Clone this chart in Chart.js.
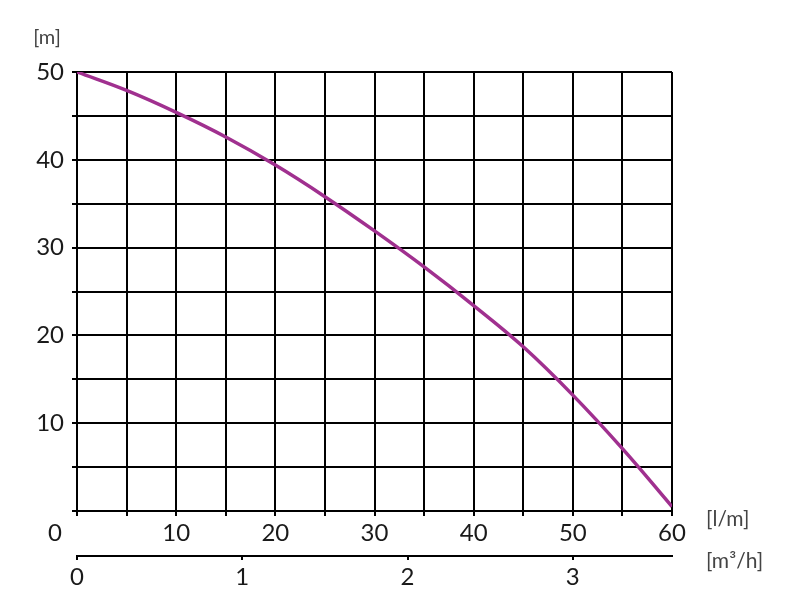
<!DOCTYPE html>
<html lang="en">
  <head>
    <meta charset="UTF-8" />
    <title>Pump curve</title>
    <script src="https://cdn.jsdelivr.net/npm/chart.js"></script>
    <style>
      html, body { margin: 0; padding: 0; background: #fff; overflow: hidden; }
    </style>
  </head>
  <body>
    <canvas id="chart" width="800" height="600"></canvas>
    <script>
      // flow in l/m and head in m
      const flowLpm = [0, 5, 10, 15, 20, 25, 30, 35, 40, 45, 50, 55, 60];
      const headM = [50, 47.9, 45.4, 42.6, 39.4, 35.8, 31.9, 27.8, 23.4, 18.7, 13.2, 7.1, 0.5];
      const m3hTicks = [0, 1, 2, 3];

      const font = "Lato, 'DejaVu Sans', sans-serif";
      const ink = "#1a1a1a";

      // axis units and the corner zero
      const unitLabels = {
        id: "unitLabels",
        afterDraw(chart) {
          const ctx = chart.ctx;
          const x = chart.scales.x;
          const x2 = chart.scales.x2;
          ctx.save();
          ctx.fillStyle = "#444";
          ctx.font = "20px " + font;
          ctx.textBaseline = "middle";
          ctx.textAlign = "center";
          ctx.fillText("[m]", 47, 38);
          ctx.textAlign = "left";
          ctx.font = "21px " + font;
          ctx.fillText("[l/m]", x.right + 34, x.top + 8);
          ctx.fillText("[m\u00b3/h]", x.right + 34, x2.top + 5);
          ctx.fillStyle = ink;
          ctx.font = "24px " + font;
          ctx.textAlign = "center";
          ctx.fillText("0", x.left - 22, x.top + 22);
          ctx.restore();
        },
      };

      new Chart(document.getElementById("chart"), {
        type: "line",
        data: {
          datasets: [
            {
              data: flowLpm.map((f, i) => ({ x: f, y: headM[i] })),
              borderColor: "#a0308f",
              borderWidth: 3.5,
              pointRadius: 0,
              tension: 0.4,
              xAxisID: "x",
              yAxisID: "y",
            },
          ],
        },
        options: {
          responsive: false,
          animation: false,
          devicePixelRatio: 1,
          layout: { padding: { top: 72, right: 128, left: 0, bottom: 0 } },
          plugins: { legend: { display: false }, tooltip: { enabled: false } },
          scales: {
            x: {
              type: "linear",
              position: "bottom",
              min: 0,
              max: 60,
              afterFit: (s) => { s.height = 45; },
              ticks: {
                stepSize: 5,
                padding: 3,
                color: ink,
                font: { family: font, size: 24 },
                maxRotation: 0,
                autoSkip: false,
                callback: (v) => (v % 10 === 0 && v !== 0 ? v : ""),
              },
              grid: { color: "#000", lineWidth: 2, tickLength: 5 },
              border: { color: "#000", width: 2 },
            },
            x2: {
              type: "linear",
              position: "bottom",
              min: 0,
              max: 3.6,
              afterFit: (s) => { s.height = 44; },
              afterBuildTicks: (s) => {
                s.ticks = m3hTicks.map((v) => ({ value: v }));
              },
              ticks: {
                padding: 3,
                color: ink,
                font: { family: font, size: 24 },
                maxRotation: 0,
                autoSkip: false,
              },
              grid: { drawOnChartArea: false, color: "#000", lineWidth: 2, tickLength: 4 },
              border: { color: "#000", width: 2 },
            },
            y: {
              min: 0,
              max: 50,
              afterFit: (s) => { s.width = 77; },
              ticks: {
                stepSize: 5,
                padding: 8,
                color: ink,
                font: { family: font, size: 24 },
                autoSkip: false,
                callback: (v) => (v % 10 === 0 && v !== 0 ? v : ""),
              },
              grid: { color: "#000", lineWidth: 2, tickLength: 5 },
              border: { color: "#000", width: 2 },
            },
          },
        },
        plugins: [unitLabels],
      });
    </script>
  </body>
</html>
